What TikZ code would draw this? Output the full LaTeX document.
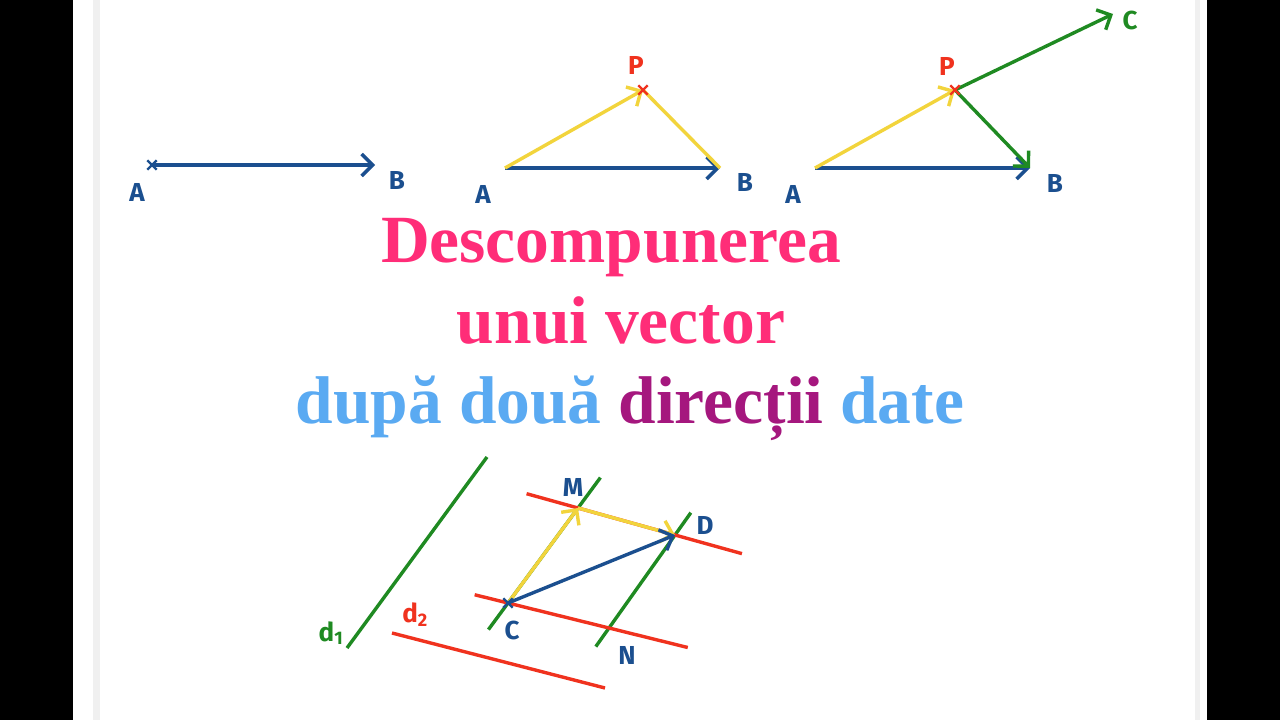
\documentclass[tikz,border=0pt]{standalone}
\usepackage{fontspec}
\setmainfont{Liberation Serif}
\newfontfamily\handfont{Fira Sans}
\usetikzlibrary{arrows.meta,shapes.misc,calc}
\definecolor{vblue}{HTML}{1B4F8F}
\definecolor{vyellow}{HTML}{F2D43C}
\definecolor{vgreen}{HTML}{1F8A22}
\definecolor{vred}{HTML}{F0321E}
\definecolor{tpink}{HTML}{FF2D78}
\definecolor{tsky}{HTML}{5AAAF2}
\definecolor{tplum}{HTML}{A5177E}

\begin{document}
\begin{tikzpicture}[x=1pt,y=-1pt,
    vec/.style={line width=3.4pt,-{Straight Barb[length=11pt,width=22pt]}},
    seg/.style={line width=3.4pt},
    ptmark/.style={cross out,draw,line width=2.4pt,minimum size=7pt,inner sep=0pt},
    lbl/.style={font=\handfont\bfseries\fontsize{26}{26}\selectfont,inner sep=0pt},
    ttl/.style={font=\bfseries\fontsize{67.5}{70}\selectfont,inner sep=0pt,anchor=base}]
  \useasboundingbox (0,0) rectangle (1280,720);
  \fill [white] (0,0) rectangle (1280,720);
  \fill [black] (0,0) rectangle (73,720);
  \fill [black] (1207,0) rectangle (1280,720);
  \fill [gray!12] (93,0) rectangle (100,720);
  \fill [gray!12] (1195,0) rectangle (1200,720);
  % first vector
  \coordinate (a1) at (152,165);
  \coordinate (b1) at (375,165);
  \draw [vec,vblue] (a1) -- (b1);
  \node [ptmark,vblue] at (a1) {};
  \node [lbl,vblue] (la1) at (137,192) {A};
  \node [lbl,vblue] (lb1) at (397,180) {B};
  % one point P
  \coordinate (a2) at (505,168);
  \coordinate (b2) at (720,168);
  \coordinate (p2) at (643,90);
  \draw [vec,vblue] (a2) -- (b2);
  \draw [vec,vyellow] (a2) -- (p2);
  \draw [seg,vyellow] (p2) -- (b2);
  \node [ptmark,vred] at (p2) {};
  \node [lbl,vblue] (la2) at (483,194) {A};
  \node [lbl,vblue] (lb2) at (745,182) {B};
  \node [lbl,vred] (lp2) at (636,65) {P};
  % P and C
  \coordinate (a3) at (815,168);
  \coordinate (b3) at (1030,168);
  \coordinate (p3) at (955,90);
  \coordinate (c3) at (1113,14);
  \draw [vec,vblue] (a3) -- (b3);
  \draw [vec,vyellow] (a3) -- (p3);
  \draw [vec,vgreen] (p3) -- (b3);
  \draw [vec,vgreen] (p3) -- (c3);
  \node [ptmark,vred] at (p3) {};
  \node [lbl,vblue] (la3) at (793,194) {A};
  \node [lbl,vblue] (lb3) at (1055,183) {B};
  \node [lbl,vred] (lp3) at (947,66) {P};
  \node [lbl,vgreen] (lc3) at (1130,20) {C};
  % title
  \node [ttl,text=tpink] (t1) at (611,262) {Descompunerea};
  \node [ttl,text=tpink] (t2) at (621,343) {unui vector};
  \node [ttl] (t3) at (630,423) {\textcolor{tsky}{după două} \textcolor{tplum}{direcții} \textcolor{tsky}{date}};
  % the two directions
  \coordinate (d1a) at (487,457);
  \coordinate (d1b) at (347,648);
  \coordinate (d2a) at (392,633);
  \coordinate (d2b) at (605,688);
  \draw [seg,vgreen] (d1a) -- (d1b);
  \draw [seg,vred] (d2a) -- (d2b);
  \node [lbl,vgreen] (ld1) at (331,633) {d\textsubscript{1}};
  \node [lbl,vred] (ld2) at (415,615) {d\textsubscript{2}};
  % parallelogram
  \coordinate (c) at (508,603);
  \coordinate (m) at (578,508);
  \coordinate (d) at (675,535);
  \coordinate (n) at (609,628);
  \draw [seg,vgreen] ($(c)!-0.28!(m)$) -- ($(m)!-0.32!(c)$);
  \draw [seg,vgreen] ($(n)!-0.2!(d)$) -- ($(d)!-0.24!(n)$);
  \draw [seg,vred] ($(m)!-0.53!(d)$) -- ($(d)!-0.69!(m)$);
  \draw [seg,vred] ($(c)!-0.33!(n)$) -- ($(n)!-0.78!(c)$);
  \draw [vec,vyellow] (c) -- (m);
  \draw [vec,vyellow] (m) -- (d);
  \draw [vec,vblue] (c) -- (d);
  \node [ptmark,vblue] at (c) {};
  \node [lbl,vblue] (lm) at (573,487) {M};
  \node [lbl,vblue] (ld) at (705,525) {D};
  \node [lbl,vblue] (lc) at (512,630) {C};
  \node [lbl,vblue] (ln) at (627,655) {N};
\end{tikzpicture}
\end{document}
